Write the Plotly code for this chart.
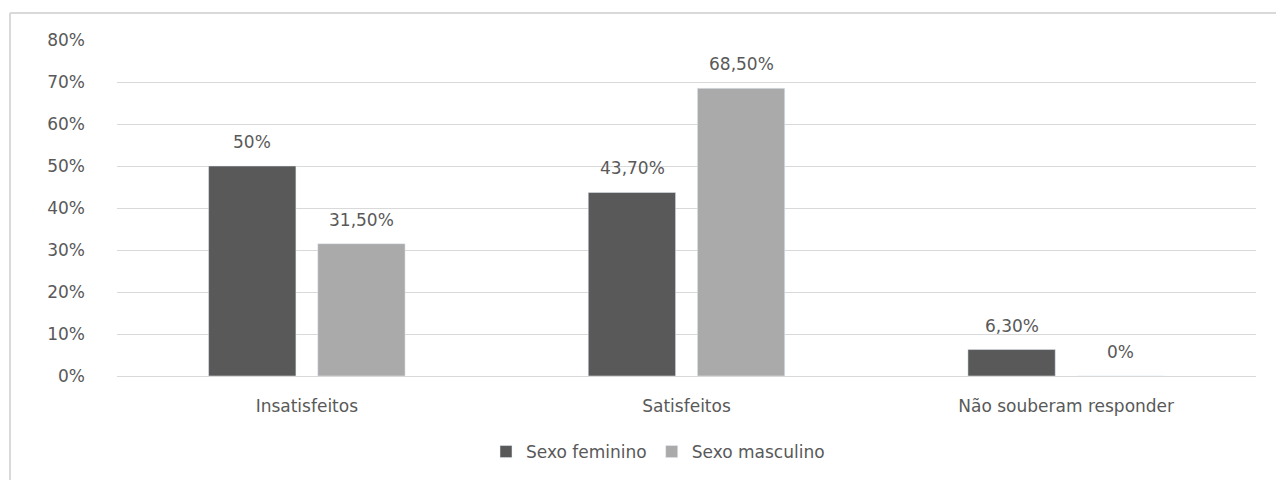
import plotly.graph_objects as go

categories = ["Insatisfeitos", "Satisfeitos", "Não souberam responder"]
feminino = [0.50, 0.437, 0.063]
masculino = [0.315, 0.685, 0.0]
feminino_labels = ["50%", "43,70%", "6,30%"]
masculino_labels = ["31,50%", "68,50%", "0%"]
tick_vals = [0, 0.1, 0.2, 0.3, 0.4, 0.5, 0.6, 0.7, 0.8]
tick_text = ["0%", "10%", "20%", "30%", "40%", "50%", "60%", "70%", "80%"]

FONT = "DejaVu Sans, Verdana, sans-serif"
TXT = "#595959"
FS = 17

fig = go.Figure()
fig.add_trace(go.Bar(x=categories, y=feminino, name="Sexo feminino",
                     marker=dict(color="#595959")))
fig.add_trace(go.Bar(x=categories, y=masculino, name="Sexo masculino",
                     marker=dict(color="#aaaaaa")))

# value labels, offset over each bar of the group
annotations = []
for cat, v, lab in zip(categories, feminino, feminino_labels):
    annotations.append(dict(x=cat, y=v, text=lab, showarrow=False, xref="x", yref="y",
                            xshift=-54.5, yanchor="bottom", yshift=12,
                            font=dict(size=FS, color=TXT, family=FONT)))
for cat, v, lab in zip(categories, masculino, masculino_labels):
    annotations.append(dict(x=cat, y=v, text=lab, showarrow=False, xref="x", yref="y",
                            xshift=54.5, yanchor="bottom", yshift=12,
                            font=dict(size=FS, color=TXT, family=FONT)))

OX, OY = 8, 8  # page offset of the figure in the browser
W, H = 1284, 480
L, R, T, B = 117 - OX, W - (1256 - OX), 40 - OY, H - (376 - OY)
pw, ph = W - L - R, H - T - B

def px(x):
    return (x - OX - L) / pw

def py(y):
    return (H - B - (y - OY)) / ph

fig.update_layout(
    width=W, height=H,
    margin=dict(l=L, r=R, t=T, b=B),
    paper_bgcolor="white", plot_bgcolor="white",
    barmode="group", bargap=0.425, bargroupgap=0.2,
    font=dict(family=FONT, color=TXT, size=FS),
    showlegend=True,
    annotations=annotations,
    legend=dict(orientation="h", x=px(658), xanchor="center", y=py(452), yanchor="middle",
                font=dict(size=FS, color=TXT, family=FONT), itemwidth=30,
                traceorder="normal"),
    xaxis=dict(showgrid=False, showline=True, linecolor="#d9d9d9", linewidth=1,
               ticks="", ticklabelstandoff=15,
               tickfont=dict(size=FS, color=TXT, family=FONT)),
    yaxis=dict(range=[0, 0.8], tickvals=tick_vals, ticktext=tick_text,
               showgrid=True, gridcolor="#d9d9d9", gridwidth=1,
               zeroline=False, showline=False, ticks="",
               ticklabelstandoff=31,
               tickfont=dict(size=FS, color=TXT, family=FONT)),
    shapes=[
        dict(type="line", xref="paper", yref="paper", x0=px(10), x1=px(1290), y0=py(13), y1=py(13),
             line=dict(color="#d9d9d9", width=2)),
        dict(type="line", xref="paper", yref="paper", x0=px(10), x1=px(10), y0=py(13), y1=py(490),
             line=dict(color="#d9d9d9", width=2)),
    ],
)

fig.write_html("out.html")
